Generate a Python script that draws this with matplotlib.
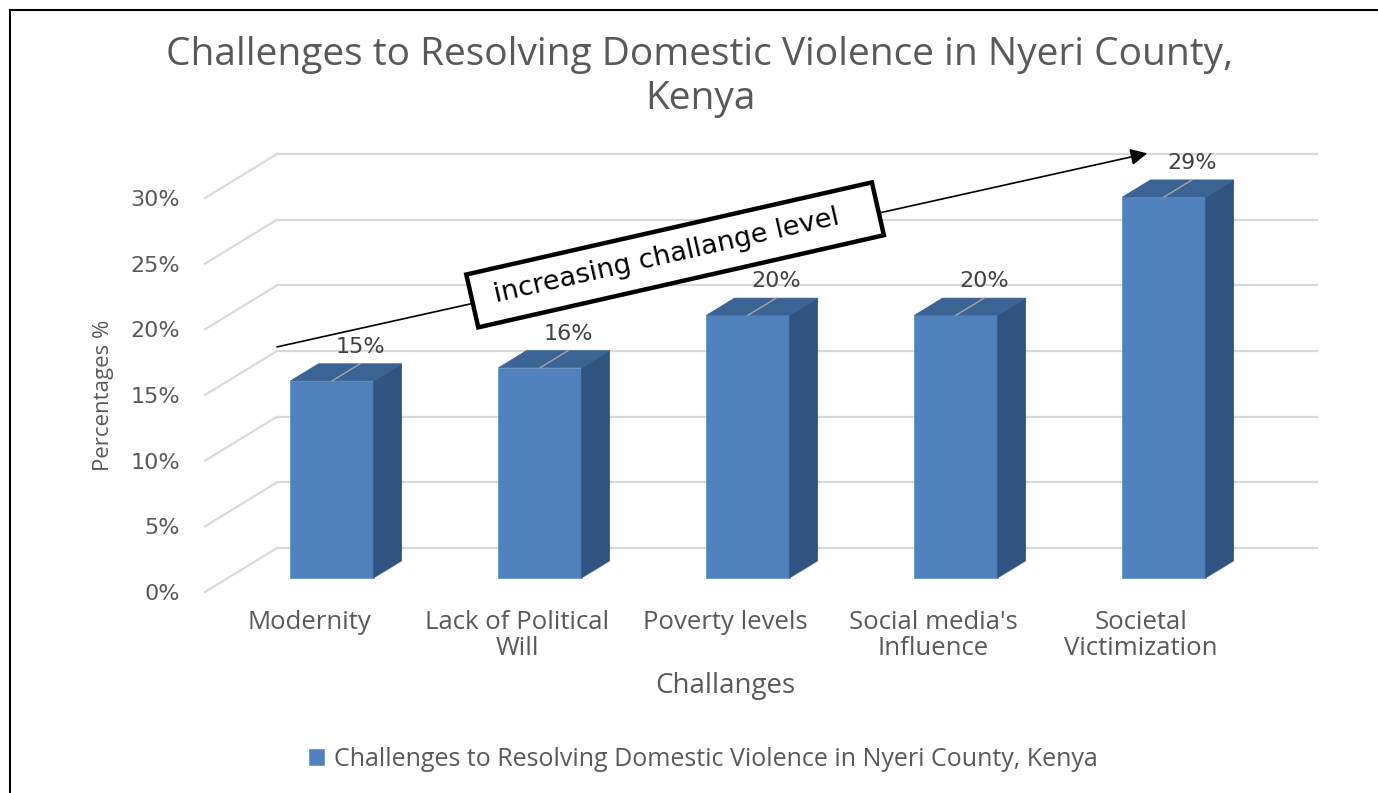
import matplotlib
matplotlib.use("Agg")
import matplotlib.pyplot as plt
from matplotlib.patches import Polygon, Rectangle
import numpy as np

plt.rcParams['font.family'] = ['Open Sans', 'DejaVu Sans']

# chart data
categories = ["Modernity", "Lack of Political\nWill", "Poverty levels",
              "Social media's\nInfluence", "Societal\nVictimization"]
values = [15, 16, 20, 20, 29]
value_labels = ["15%", "16%", "20%", "20%", "29%"]
y_ticks = [0, 5, 10, 15, 20, 25, 30]
y_tick_labels = ["0%", "5%", "10%", "15%", "20%", "25%", "30%"]
title = "Challenges to Resolving Domestic Violence in Nyeri County,\nKenya"
series_name = "Challenges to Resolving Domestic Violence in Nyeri County, Kenya"
x_title = "Challanges"
y_title = "Percentages %"
arrow_text = " increasing challange level   "

# colours
TEXT = '#595959'
GRID = '#d9d9d9'
FRONT = '#4f81bd'
SIDE = '#325481'
TOP = '#3b6393'

# fake 3d: depth of the floor in data units, bar front/back depth fractions
DX, DY = 0.346, 3.35
F0, F1 = 0.32, 0.71
BAR_W = 0.4

W, H = 1378, 793
fig = plt.figure(figsize=(W / 100, H / 100), dpi=100)
ax = fig.add_axes([205 / W, 201 / H, 1040 / W, 394 / H])
ax.set_xlim(-0.5, 4.5)
ax.set_ylim(0, 30)
for s in ax.spines.values():
    s.set_visible(False)

# back wall and side wall gridlines
for t in y_ticks:
    ax.plot([-0.5 + DX, 4.5 + DX], [t + DY, t + DY], color=GRID, lw=1.6,
            clip_on=False, zorder=1)
    ax.plot([-0.5, -0.5 + DX], [t, t + DY], color=GRID, lw=1.6,
            clip_on=False, zorder=1)

x = np.arange(len(values))
bars = ax.bar(x + F0 * DX, values, width=BAR_W, bottom=F0 * DY, color=FRONT,
              edgecolor='#6a95c8', linewidth=0.6, zorder=3, clip_on=False,
              label=series_name)

for xi, v, lab in zip(x, values, value_labels):
    r = xi + BAR_W / 2
    l = xi - BAR_W / 2
    side = Polygon([(r + F0 * DX, F0 * DY), (r + F1 * DX, F1 * DY),
                    (r + F1 * DX, v + F1 * DY), (r + F0 * DX, v + F0 * DY)],
                   closed=True, fc=SIDE, ec=SIDE, lw=0.5, zorder=3, clip_on=False)
    top = Polygon([(l + F0 * DX, v + F0 * DY), (r + F0 * DX, v + F0 * DY),
                   (r + F1 * DX, v + F1 * DY), (l + F1 * DX, v + F1 * DY)],
                  closed=True, fc=TOP, ec=TOP, lw=0.5, zorder=3, clip_on=False)
    ax.add_patch(side)
    ax.add_patch(top)
    # leader line across the top face, then the label
    ax.plot([xi + F0 * DX, xi + F1 * DX], [v + F0 * DY, v + F1 * DY],
            color='#a6a6a6', lw=1, zorder=4, clip_on=False)
    ax.annotate(lab, xy=(xi + F1 * DX, v + F1 * DY), xytext=(0, 12),
                textcoords='offset points', ha='center', va='center',
                fontsize=16, color='#404040', family='DejaVu Sans',
                annotation_clip=False, zorder=5)

ax.set_yticks(y_ticks, y_tick_labels)
ax.tick_params(axis='y', length=0, pad=18, labelsize=16, labelcolor=TEXT)
for lbl in ax.get_yticklabels():
    lbl.set_fontfamily('DejaVu Sans')
ax.set_xticks(x, categories)
ax.tick_params(axis='x', length=0, pad=13, labelsize=18.5, labelcolor=TEXT)
for lbl in ax.get_xticklabels():
    lbl.set_linespacing(1.05)

ax.set_xlabel(x_title, fontsize=20, color=TEXT, labelpad=8)
ax.set_ylabel(y_title, fontsize=16, color=TEXT, labelpad=12)

# trend arrow with the boxed note
ax.annotate("", xy=(4.03, 33.4), xytext=(-0.154, 18.66),
            arrowprops=dict(arrowstyle='-|>', color='black', lw=1.2,
                            mutation_scale=25, shrinkA=0, shrinkB=0),
            annotation_clip=False, zorder=6)
ax.text(1.76, 25.67, arrow_text, rotation=12.8, rotation_mode='anchor',
        ha='center', va='center', fontsize=19.5, family='DejaVu Sans',
        bbox=dict(boxstyle='square,pad=0.52', fc='white', ec='black', lw=3.2),
        zorder=7)

fig.text(700 / W, 1 - 77 / H, title, ha='center', va='center', fontsize=28,
         color=TEXT, linespacing=1.2)

fig.legend(handles=[bars], labels=[series_name], loc='center',
           bbox_to_anchor=(703 / W, 1 - 759 / H), frameon=False, fontsize=18,
           handlelength=0.6, handleheight=0.6, handletextpad=0.4,
           labelcolor=TEXT)

# chart border
fig.add_artist(Rectangle((10 / W, -0.1), 1.2, 1.1 - 10 / H,
                         transform=fig.transFigure, fill=False,
                         ec='black', lw=1.5))

fig.savefig('out.png', dpi=100)
